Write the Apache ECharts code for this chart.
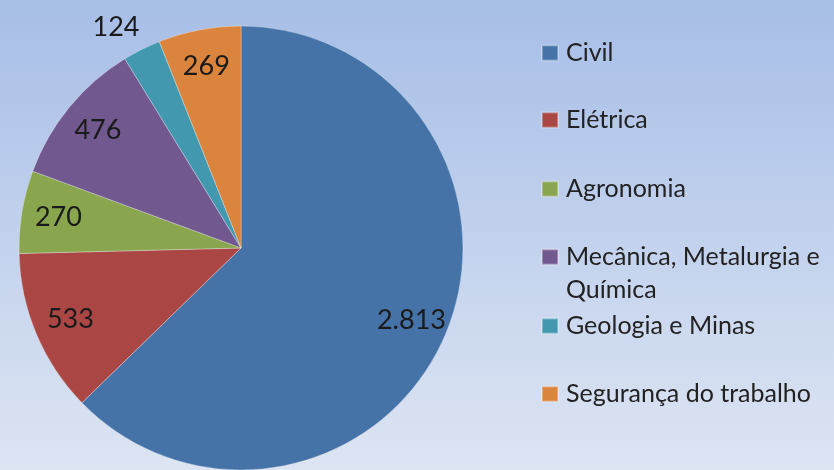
<!DOCTYPE html>
<html>
<head>
<meta charset="utf-8">
<script src="https://cdn.jsdelivr.net/npm/echarts@6/dist/echarts.min.js"></script>
<style>
  html, body { margin: 0; padding: 0; }
  #chart { width: 834px; height: 470px; }
</style>
</head>
<body>
<div id="chart"></div>
<script>
const categories = [
  "Civil",
  "Elétrica",
  "Agronomia",
  "Mecânica, Metalurgia e\nQuímica",
  "Geologia e Minas",
  "Segurança do trabalho",
];
const values = [2813, 533, 270, 476, 124, 269];
// which slice has its label outside the pie
const labelOutside = [false, false, false, false, true, false];
// vertical centre of each legend entry
const legendRows = [53, 120, 189, 257, 326, 394];

const colors = ["#4572A7", "#AA4643", "#89A54E", "#71588F", "#4198AF", "#DB843D"];

function fmt(v) {
  return String(v).replace(/\B(?=(\d{3})+(?!\d))/g, ".");
}

const labelFont = {
  fontFamily: "Lato",
  fontSize: 27,
  color: "#1a1a1a",
};

const R = 222;

const legends = categories.map(function (name, i) {
  const multi = name.indexOf("\n") >= 0;
  const lh = multi ? 33 : 28;
  return {
    orient: "vertical",
    left: 541,
    // multi-line entry gets a blank first line so the icon sits on the first text line
    top: multi ? legendRows[i] - lh * 1.5 : legendRows[i] - lh / 2,
    padding: 0,
    itemWidth: 16,
    itemHeight: 15,
    icon: "rect",
    selectedMode: false,
    data: [name],
    formatter: function (n) {
      return multi ? " \n" + n : n;
    },
    textStyle: {
      fontFamily: "Lato",
      fontSize: 25,
      lineHeight: lh,
      color: "#222",
      padding: [0, 0, 0, 3],
    },
  };
});

const option = {
  backgroundColor: {
    type: "linear",
    x: 0, y: 0, x2: 0, y2: 1,
    colorStops: [
      { offset: 0, color: "#A7BEE7" },
      { offset: 1, color: "#DDE5F3" },
    ],
  },
  color: colors,
  animation: false,
  legend: legends,
  series: [
    {
      name: "main",
      type: "pie",
      center: [241, 248],
      radius: [0, R],
      startAngle: 90,
      clockwise: true,
      avoidLabelOverlap: false,
      itemStyle: {
        borderColor: "rgba(255,255,255,0.3)",
        borderWidth: 1,
      },
      labelLine: { show: false, length: 25, length2: 0 },
      labelLayout: { dx: 14 },
      data: categories.map(function (name, i) {
        return {
          name: name,
          value: values[i],
          label: {
            show: labelOutside[i],
            position: "outside",
            formatter: function (p) { return fmt(p.value); },
            ...labelFont,
          },
        };
      }),
    },
    {
      // transparent ring used only to place the inner labels near the rim
      name: "labels",
      type: "pie",
      center: [241, 248],
      radius: [R * 0.64, R],
      startAngle: 90,
      clockwise: true,
      silent: true,
      legendHoverLink: false,
      avoidLabelOverlap: false,
      itemStyle: { color: "rgba(0,0,0,0)" },
      labelLine: { show: false },
      data: categories.map(function (name, i) {
        return {
          name: name,
          value: values[i],
          label: {
            show: !labelOutside[i],
            position: "inside",
            formatter: function (p) { return fmt(p.value); },
            ...labelFont,
          },
        };
      }),
    },
  ],
};

const myChart = echarts.init(document.getElementById("chart"));
myChart.setOption(option);
window.addEventListener("resize", function () {
  myChart.resize();
});
</script>
</body>
</html>
